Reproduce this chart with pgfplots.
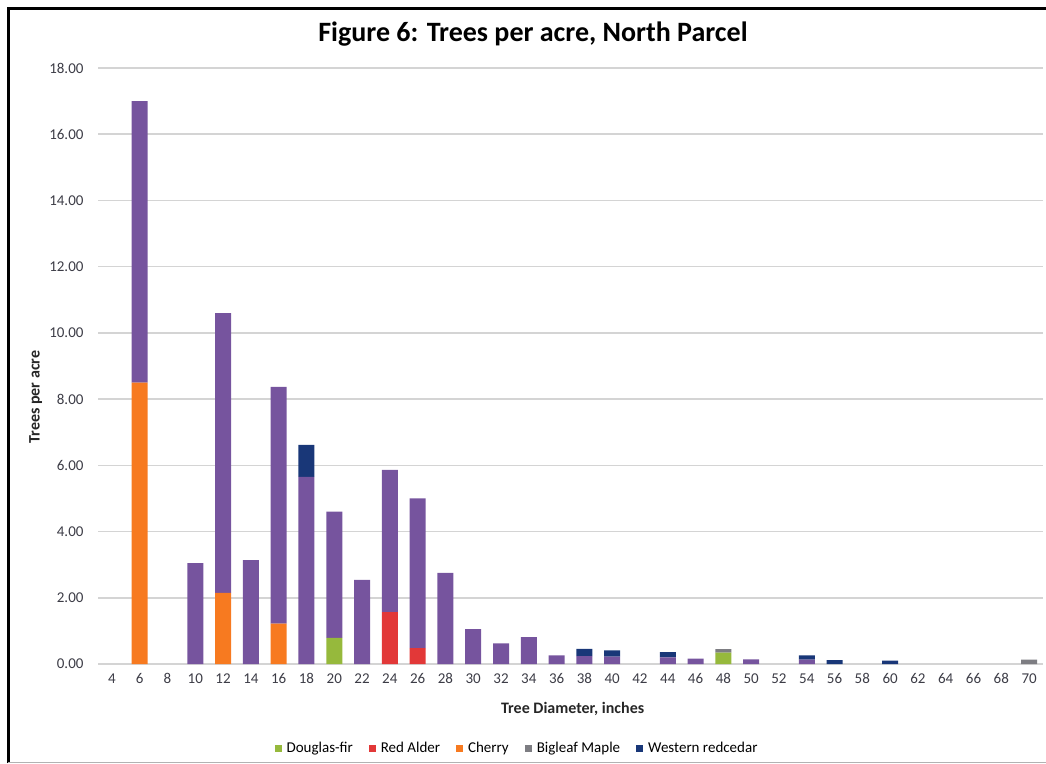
\documentclass[border=0pt]{standalone}
\usepackage{pgfplots}
\pgfplotsset{compat=1.18}
\usepackage{pgfplotstable}
\usepackage{fontspec}
\setmainfont{Carlito}
\definecolor{cpurple}{RGB}{118,84,158}
\definecolor{corange}{RGB}{247,122,32}
\definecolor{cgreen}{RGB}{150,185,60}
\definecolor{cred}{RGB}{226,56,56}
\definecolor{cgray}{RGB}{125,125,130}
\definecolor{cblue}{RGB}{25,55,120}
\definecolor{ctick}{RGB}{60,60,70}
\definecolor{cgrid}{RGB}{212,212,212}
\pgfplotstableread{
x d a c p m w
0 0 0 0 0 0 0
1 0 0 8.5 8.5 0 0
2 0 0 0 0 0 0
3 0 0 0 3.05 0 0
4 0 0 2.15 8.45 0 0
5 0 0 0 3.14 0 0
6 0 0 1.22 7.15 0 0
7 0 0 0 5.65 0 0.97
8 0.79 0 0 3.81 0 0
9 0 0 0 2.54 0 0
10 0 1.57 0 4.29 0 0
11 0 0.48 0 4.52 0 0
12 0 0 0 2.75 0 0
13 0 0 0 1.05 0 0
14 0 0 0 0.62 0 0
15 0 0 0 0.81 0 0
16 0 0 0 0.26 0 0
17 0 0 0 0.24 0 0.22
18 0 0 0 0.22 0 0.19
19 0 0 0 0 0 0
20 0 0 0 0.20 0 0.16
21 0 0 0 0.16 0 0
22 0.34 0 0 0 0.11 0
23 0 0 0 0.14 0 0
24 0 0 0 0 0 0
25 0 0 0 0.13 0 0.13
26 0 0 0 0 0 0.12
27 0 0 0 0 0 0
28 0 0 0 0 0 0.10
29 0 0 0 0 0 0
30 0 0 0 0 0 0
31 0 0 0 0 0 0
32 0 0 0 0 0 0
33 0 0 0 0 0.13 0
}\treedata
\begin{document}
\begin{tikzpicture}[x=1pt,y=1pt]
\path[use as bounding box] (0,0) rectangle (1046,763);
\draw[line width=3pt,black] (8,0) -- (8,754) -- (1046,754);
\draw[line width=0.8pt,black!30] (8,1) -- (1046,1);
\node[font=\fontsize{28}{32}\selectfont\bfseries] at (533,729) {Figure 6: Trees per acre, North Parcel};
\begin{axis}[
  at={(98pt,99pt)}, anchor=south west,
  scale only axis, width=945pt, height=596pt,
  ybar stacked, bar width=16pt,
  xmin=-0.5, xmax=33.5, ymin=0, ymax=18,
  xtick={0,...,33},
  xticklabels={4,6,8,10,12,14,16,18,20,22,24,26,28,30,32,34,36,38,40,42,44,46,48,50,52,54,56,58,60,62,64,66,68,70},
  ytick={0,2,...,18},
  /pgf/number format/assume math mode=true,
  yticklabel style={/pgf/number format/fixed,/pgf/number format/fixed zerofill,/pgf/number format/precision=2, xshift=-11pt},
  xticklabel style={yshift=-6pt},
  tick label style={font=\fontsize{15}{18}\selectfont, text=ctick},
  major tick length=0pt,
  axis line style={draw=none},
  ymajorgrids, grid style={cgrid, line width=1.5pt},
  xlabel={Tree Diameter, inches},
  ylabel={Trees per acre},
  label style={font=\fontsize{16}{19}\selectfont\bfseries, text=black!85},
  xlabel style={at={(axis description cs:0.5023,-0.0755)}, anchor=center},
  ylabel style={at={(axis description cs:-0.066,0.448)}, anchor=center},
  legend style={at={(0.4434,-0.141)}, anchor=center, draw=none, fill=none,
    legend columns=5, font=\fontsize{15}{18}\selectfont,
    /tikz/every even column/.append style={column sep=14pt},
    /tikz/every odd column/.append style={column sep=3pt}},
  legend image code/.code={\fill[#1] (0pt,-3.5pt) rectangle (7pt,3.5pt);},
]
\addplot[fill=cgreen, draw=none] table[x=x,y=d] {\treedata};
\addlegendentry{Douglas-fir}
\addplot[fill=cred, draw=none] table[x=x,y=a] {\treedata};
\addlegendentry{Red Alder}
\addplot[fill=corange, draw=none] table[x=x,y=c] {\treedata};
\addlegendentry{Cherry}
\addplot[fill=cpurple, draw=none, forget plot] table[x=x,y=p] {\treedata};
\addplot[fill=cgray, draw=none] table[x=x,y=m] {\treedata};
\addlegendentry{Bigleaf Maple}
\addplot[fill=cblue, draw=none] table[x=x,y=w] {\treedata};
\addlegendentry{Western redcedar}
\end{axis}
\end{tikzpicture}
\end{document}
